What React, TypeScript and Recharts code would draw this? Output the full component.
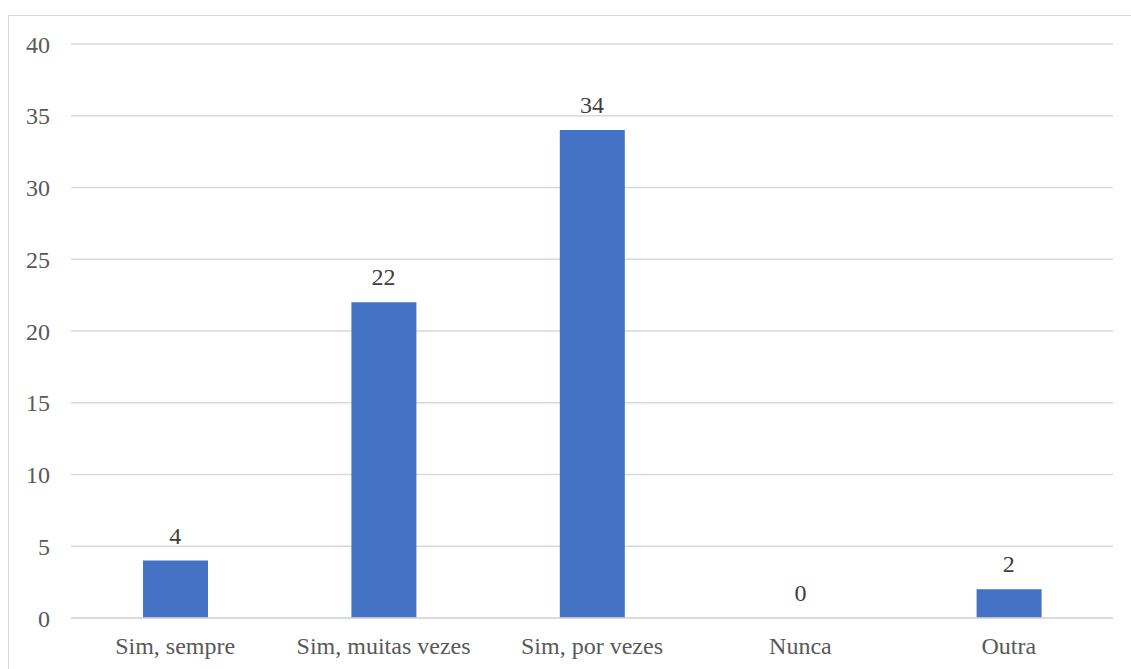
import React from 'react';
import { ComposedChart, Bar, Line, XAxis, YAxis, CartesianGrid, LabelList } from 'recharts';

const categories = ['Sim, sempre', 'Sim, muitas vezes', 'Sim, por vezes', 'Nunca', 'Outra'];
const values = [4, 22, 34, 0, 2];
const yTicks = [0, 5, 10, 15, 20, 25, 30, 35, 40];

const data = categories.map((name, i) => ({ name, value: values[i] }));

const font = 'Liberation Serif';

export default function App() {
  return (
    <div style={{ position: 'absolute', left: 0, top: 0, width: 1131, height: 669, background: '#fff', overflow: 'hidden' }}>
      <div style={{ position: 'absolute', left: 8, top: 15, width: 1140, height: 680, border: '1px solid #d9d9d9', boxSizing: 'border-box' }} />
      <div style={{ position: 'absolute', left: 0, top: 0 }}>
        <ComposedChart width={1131} height={669} data={data} margin={{ top: 44, right: 18, bottom: 0, left: 0 }}>
          <CartesianGrid vertical={false} stroke="#d9d9d9" strokeWidth={1.3} />
          <XAxis
            dataKey="name"
            height={51}
            tickLine={false}
            tickSize={0}
            tickMargin={19}
            axisLine={{ stroke: '#d9d9d9', strokeWidth: 1.3 }}
            tick={{ fill: '#595959', fontSize: 24, fontFamily: font }}
            interval={0}
          />
          <YAxis
            width={71}
            domain={[0, 40]}
            ticks={yTicks}
            axisLine={false}
            tickLine={false}
            tickSize={0}
            tickMargin={21}
            tick={{ fill: '#595959', fontSize: 24, fontFamily: font }}
          />
          <Bar dataKey="value" fill="#4472C4" barSize={65} isAnimationActive={false} />
          <Line dataKey="value" stroke="none" dot={false} activeDot={false} isAnimationActive={false}>
            <LabelList dataKey="value" position="top" offset={17} fill="#404040" fontSize={24} fontFamily={font} />
          </Line>
        </ComposedChart>
      </div>
    </div>
  );
}
